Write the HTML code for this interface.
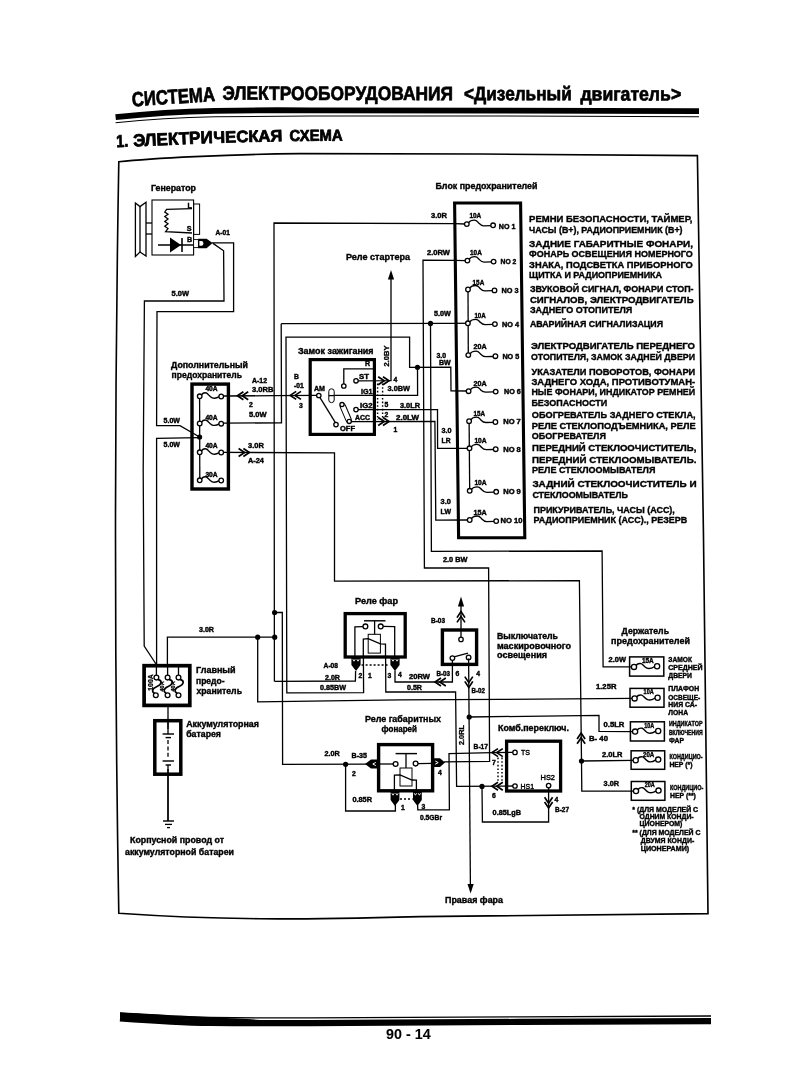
<!DOCTYPE html>
<html><head><meta charset="utf-8"><title>90-14</title>
<style>
html,body{margin:0;padding:0;background:#fff;}
body{width:800px;height:1066px;overflow:hidden;}
svg{display:block;font-family:"Liberation Sans",sans-serif;fill:#000;filter:grayscale(1) blur(0.35px);}
</style></head><body>
<svg width="800" height="1066" viewBox="0 0 800 1066">
<rect x="0" y="0" width="800" height="1066" fill="#fff"/>
<g id="hdr">
<path d="M115.6,117.2 C150,113.4 185,111.4 215,110.8 C260,110 290,110.2 310,110.4 L500,110.6 L699,111.2" fill="none" stroke="#000" stroke-width="5.8"/>
<path d="M115.6,122.8 C150,119.2 185,117.4 215,116.8 C260,116.2 290,116 310,116 L500,116 L699,116.7" fill="none" stroke="#000" stroke-width="1.1"/>
<text x="132.2" y="106.4" font-size="20.4" font-weight="bold" textLength="83.4" lengthAdjust="spacingAndGlyphs" transform="rotate(-3.7 132.2 106.4)" stroke="#000" stroke-width="0.7" stroke-linejoin="round">СИСТЕМА</text>
<text x="222.6" y="99.8" font-size="19.4" font-weight="bold" textLength="230.4" lengthAdjust="spacingAndGlyphs" transform="rotate(0.1 222.6 99.8)" stroke="#000" stroke-width="0.7" stroke-linejoin="round">ЭЛЕКТРООБОРУДОВАНИЯ</text>
<text x="464" y="100.2" font-size="19.4" font-weight="bold" textLength="107.8" lengthAdjust="spacingAndGlyphs" transform="rotate(0.1 464 100.2)" stroke="#000" stroke-width="0.7" stroke-linejoin="round">&lt;Дизельный</text>
<text x="580.4" y="100.4" font-size="19.4" font-weight="bold" textLength="100.8" lengthAdjust="spacingAndGlyphs" transform="rotate(0.1 580.4 100.4)" stroke="#000" stroke-width="0.7" stroke-linejoin="round">двигатель&gt;</text>
<text x="116.4" y="147.2" font-size="17.4" font-weight="bold" textLength="12" lengthAdjust="spacingAndGlyphs" transform="rotate(-2.5 116.4 147.2)" stroke="#000" stroke-width="0.8" stroke-linejoin="round">1.</text>
<text x="133.4" y="146.6" font-size="17.4" font-weight="bold" textLength="79.6" lengthAdjust="spacingAndGlyphs" transform="rotate(-2.6 133.4 146.6)" stroke="#000" stroke-width="0.8" stroke-linejoin="round">ЭЛЕКТРИ</text>
<text x="213.6" y="143" font-size="16.4" font-weight="bold" textLength="69" lengthAdjust="spacingAndGlyphs" transform="rotate(-1.6 213.6 143)" stroke="#000" stroke-width="0.8" stroke-linejoin="round">ЧЕСКАЯ</text>
<text x="289.6" y="141" font-size="15.8" font-weight="bold" textLength="53" lengthAdjust="spacingAndGlyphs" transform="rotate(-0.5 289.6 141)" stroke="#000" stroke-width="0.8" stroke-linejoin="round">СХЕМА</text>
<path d="M120,1018.4 C150,1020.6 180,1022.6 210,1023 C250,1023.4 280,1023.2 310,1023.1 L520,1021.9 L711,1021.1" fill="none" stroke="#000" stroke-width="6.2"/>
<path d="M120,1012.8 C150,1014.6 180,1016.8 210,1017.5 C250,1018 280,1018 310,1017.9 L520,1016.8 L711,1016" fill="none" stroke="#000" stroke-width="1.3"/>
<path d="M120,1012.4 C150,1014.2 180,1016.4 215,1017.4 L260,1019.6 L215,1021 L120,1017 Z" fill="#000"/>
<text x="386" y="1039" font-size="14" font-weight="bold" textLength="44.6" lengthAdjust="spacingAndGlyphs" transform="rotate(0 386 1039)" stroke="#000" stroke-width="0.05" stroke-linejoin="round">90 - 14</text>
</g>
<g id="dia" stroke-linejoin="miter" stroke-linecap="butt">
<path d="M118.8,161.8 C150,158.4 230,154.2 300,153.6 L480,154 L697.4,155.6 L703.4,530 L708,913.6 L420,916.6 C340,918.6 300,919.2 260,918.8 C200,918 150,915.4 118.8,913.2 Q112.2,537 118.8,161.8 Z" fill="none" stroke="#000" stroke-width="1.62" />
<text x="151" y="191" font-size="9.5" font-weight="bold" textLength="45" lengthAdjust="spacingAndGlyphs" stroke="#000" stroke-width="0.4" >Генератор</text>
<path d="M135.4,203 L140,206.6 L146,202.2 L146,256 L140,252 L135.4,256.4 Z" fill="none" stroke="#000" stroke-width="1.3" />
<polyline points="140,206.6 140,252" fill="none" stroke="#000" stroke-width="1.3" />
<polyline points="146,223 152,223" fill="none" stroke="#000" stroke-width="1.3" />
<polyline points="146,234 152,234" fill="none" stroke="#000" stroke-width="1.3" />
<rect x="152" y="200" width="41.6" height="55" fill="none" stroke="#000" stroke-width="1.1"/>
<rect x="193.6" y="204" width="6" height="30.4" fill="none" stroke="#000" stroke-width="1"/>
<text x="187.4" y="208" font-size="7.2" font-weight="bold" stroke="#000" stroke-width="0.4" >L</text>
<text x="186.8" y="231" font-size="7.2" font-weight="bold" stroke="#000" stroke-width="0.4" >S</text>
<text x="187" y="242" font-size="7.2" font-weight="bold" stroke="#000" stroke-width="0.4" >B</text>
<path d="M192,208.6 L166.6,209.4 L164.8,212 L168,214.2 L164.8,216.6 L168,219 L164.8,221.4 L168,223.8 L164.8,226.2 L168,228.6 L165.6,231.6 L192,233" fill="none" stroke="#000" stroke-width="1.3" />
<polyline points="158,245 193.6,245" fill="none" stroke="#000" stroke-width="1.3" />
<polygon points="170,237.4 170,252.4 181,245" fill="#000"/>
<polyline points="182,238 182,252" fill="none" stroke="#000" stroke-width="1.56" />
<rect x="193.6" y="239.6" width="4.8" height="8" fill="#fff" stroke="#000" stroke-width="0.9"/>
<polygon points="198.2,238.8 206.6,238.8 212.6,243 206.6,248.2 198.2,248.2" fill="#000"/>
<path d="M199.4,241 h2 a2,2.4 0 0 1 0,4.8 h-2 z" fill="#fff"/>
<text x="215.6" y="235.2" font-size="6.8" font-weight="bold" textLength="14.2" lengthAdjust="spacingAndGlyphs" stroke="#000" stroke-width="0.4" >A-01</text>
<polyline points="212,242.8 233.6,242.8 233.6,311.6 157,311.6 156.6,425.6 180,425.6 199.6,437" fill="none" stroke="#000" stroke-width="1.3" />
<polyline points="213,243.4 223.6,250.8 224,301 144.4,301 143.2,470 144.2,646 156,664" fill="none" stroke="#000" stroke-width="1.3" />
<text x="171.6" y="296.4" font-size="6.8" font-weight="bold" textLength="17.4" lengthAdjust="spacingAndGlyphs" stroke="#000" stroke-width="0.4" >5.0W</text>
<text x="171" y="368" font-size="9.3" font-weight="bold" textLength="77" lengthAdjust="spacingAndGlyphs" stroke="#000" stroke-width="0.4" >Дополнительный</text>
<text x="171.6" y="377.7" font-size="9.3" font-weight="bold" textLength="70.4" lengthAdjust="spacingAndGlyphs" stroke="#000" stroke-width="0.4" >предохранитель</text>
<rect x="192" y="384.1" width="36.4" height="104.9" fill="none" stroke="#000" stroke-width="3.4"/>
<polyline points="199.6,396 199.8,480" fill="none" stroke="#000" stroke-width="1.3" />
<path d="M201.5,394.9 C202.92,392.9 204.64,392.5 206.36,393 S209.16,396.5 211.74,397.6 S216.9,398.1 219.1,396.7" fill="none" stroke="#000" stroke-width="1.43" />
<circle cx="199.7" cy="396.3" r="2.3" fill="#fff" stroke="#000" stroke-width="1.3"/>
<circle cx="221.2" cy="396.5" r="2.3" fill="#fff" stroke="#000" stroke-width="1.3"/>
<text x="205.4" y="391.2" font-size="6.8" font-weight="bold" textLength="12.2" lengthAdjust="spacingAndGlyphs" stroke="#000" stroke-width="0.4" >40A</text>
<path d="M201.5,422.1 C202.92,420.1 204.64,419.7 206.36,420.2 S209.16,423.7 211.74,424.8 S216.9,425.3 219.1,423.9" fill="none" stroke="#000" stroke-width="1.43" />
<circle cx="199.7" cy="423.5" r="2.3" fill="#fff" stroke="#000" stroke-width="1.3"/>
<circle cx="221.2" cy="423.7" r="2.3" fill="#fff" stroke="#000" stroke-width="1.3"/>
<text x="205.4" y="419.6" font-size="6.8" font-weight="bold" textLength="12.2" lengthAdjust="spacingAndGlyphs" stroke="#000" stroke-width="0.4" >40A</text>
<path d="M201.5,450.9 C202.92,448.9 204.64,448.5 206.36,449 S209.16,452.5 211.74,453.6 S216.9,454.1 219.1,452.7" fill="none" stroke="#000" stroke-width="1.43" />
<circle cx="199.7" cy="452.3" r="2.3" fill="#fff" stroke="#000" stroke-width="1.3"/>
<circle cx="221.2" cy="452.5" r="2.3" fill="#fff" stroke="#000" stroke-width="1.3"/>
<text x="205.4" y="448.4" font-size="6.8" font-weight="bold" textLength="12.2" lengthAdjust="spacingAndGlyphs" stroke="#000" stroke-width="0.4" >40A</text>
<path d="M201.5,478.9 C202.92,476.9 204.64,476.5 206.36,477 S209.16,480.5 211.74,481.6 S216.9,482.1 219.1,480.7" fill="none" stroke="#000" stroke-width="1.43" />
<circle cx="199.7" cy="480.3" r="2.3" fill="#fff" stroke="#000" stroke-width="1.3"/>
<circle cx="221.2" cy="480.5" r="2.3" fill="#fff" stroke="#000" stroke-width="1.3"/>
<text x="205.4" y="477" font-size="6.8" font-weight="bold" textLength="12.2" lengthAdjust="spacingAndGlyphs" stroke="#000" stroke-width="0.4" >30A</text>
<circle cx="199.6" cy="437" r="2.6" fill="#000"/>
<polyline points="199.6,437.6 156.6,438.4 156.6,665" fill="none" stroke="#000" stroke-width="1.3" />
<text x="163.6" y="422.6" font-size="6.8" font-weight="bold" textLength="16.4" lengthAdjust="spacingAndGlyphs" stroke="#000" stroke-width="0.4" >5.0W</text>
<text x="163.6" y="447" font-size="6.8" font-weight="bold" textLength="16.4" lengthAdjust="spacingAndGlyphs" stroke="#000" stroke-width="0.4" >5.0W</text>
<polyline points="224,396 274.2,395.6" fill="none" stroke="#000" stroke-width="1.3" />
<polyline points="274.2,395.6 316.6,395.4" fill="none" stroke="#000" stroke-width="1.3" />
<polyline points="243.4,391.8 237.4,395.8 243.4,399.8" fill="none" stroke="#000" stroke-width="1.69" />
<polyline points="248.2,391.8 242.2,395.8 248.2,399.8" fill="none" stroke="#000" stroke-width="1.69" />
<polyline points="296.2,391.4 290.2,395.4 296.2,399.4" fill="none" stroke="#000" stroke-width="1.69" />
<polyline points="301,391.4 295,395.4 301,399.4" fill="none" stroke="#000" stroke-width="1.69" />
<text x="252" y="382.6" font-size="6.8" font-weight="bold" textLength="15" lengthAdjust="spacingAndGlyphs" stroke="#000" stroke-width="0.4" >A-12</text>
<text x="252" y="391.8" font-size="6.8" font-weight="bold" textLength="21.4" lengthAdjust="spacingAndGlyphs" stroke="#000" stroke-width="0.4" >3.0RB</text>
<text x="249" y="406.6" font-size="6.8" font-weight="bold" stroke="#000" stroke-width="0.4" >2</text>
<text x="249" y="417" font-size="6.8" font-weight="bold" textLength="17.5" lengthAdjust="spacingAndGlyphs" stroke="#000" stroke-width="0.4" >5.0W</text>
<polyline points="224,423.2 281.5,422.8 281.2,323.7" fill="none" stroke="#000" stroke-width="1.3" />
<polyline points="224,452.4 334.5,452.8 334.5,581.2 579.4,580.6 581.5,761 581.8,791.2 633.6,791.1" fill="none" stroke="#000" stroke-width="1.3" />
<polyline points="243.4,448.5 249.4,452.5 243.4,456.5" fill="none" stroke="#000" stroke-width="1.69" />
<polyline points="238.6,448.5 244.6,452.5 238.6,456.5" fill="none" stroke="#000" stroke-width="1.69" />
<text x="248" y="448.2" font-size="6.8" font-weight="bold" textLength="15.8" lengthAdjust="spacingAndGlyphs" stroke="#000" stroke-width="0.4" >3.0R</text>
<text x="248" y="463.4" font-size="6.8" font-weight="bold" textLength="15.8" lengthAdjust="spacingAndGlyphs" stroke="#000" stroke-width="0.4" >A-24</text>
<polyline points="274.4,681.4 274,223 455,223.6" fill="none" stroke="#000" stroke-width="1.3" />
<polyline points="274.6,681.4 355.4,681 355.6,671" fill="none" stroke="#000" stroke-width="1.3" />
<text x="431" y="218.4" font-size="6.8" font-weight="bold" textLength="16" lengthAdjust="spacingAndGlyphs" stroke="#000" stroke-width="0.4" >3.0R</text>
<polyline points="455,260.4 423,260.2 424.4,568 488.6,568 489.6,761.4 444,761.8" fill="none" stroke="#000" stroke-width="1.3" />
<text x="427" y="254.8" font-size="6.8" font-weight="bold" textLength="23" lengthAdjust="spacingAndGlyphs" stroke="#000" stroke-width="0.4" >2.0RW</text>
<polyline points="281.2,323.7 456,323.3" fill="none" stroke="#000" stroke-width="1.3" />
<circle cx="430.5" cy="323.4" r="2.6" fill="#000"/>
<text x="434" y="316" font-size="6.8" font-weight="bold" textLength="16.8" lengthAdjust="spacingAndGlyphs" stroke="#000" stroke-width="0.4" >5.0W</text>
<polyline points="430.5,323.4 431.4,551.4 602.1,551 603.1,666.8 631.6,666.9" fill="none" stroke="#000" stroke-width="1.3" />
<text x="346" y="260.3" font-size="9.8" font-weight="bold" textLength="64" lengthAdjust="spacingAndGlyphs" stroke="#000" stroke-width="0.4" >Реле стартера</text>
<polygon points="391,270 387.9,279.5 394.1,279.5" fill="#000"/>
<polyline points="391,279 391,380.6 358,380.8" fill="none" stroke="#000" stroke-width="1.3" />
<polyline points="363.4,657 363.6,692.6 286.8,692.8 286,337.2 409.6,337.2 409.6,367.4 450.8,367.2 451,390.8 467,391" fill="none" stroke="#000" stroke-width="1.3" />
<circle cx="417.5" cy="367.3" r="2.6" fill="#000"/>
<polyline points="417.5,367.3 417.6,395.4 376,395.4" fill="none" stroke="#000" stroke-width="1.3" />
<text x="436.4" y="358.4" font-size="6.8" font-weight="bold" textLength="9.6" lengthAdjust="spacingAndGlyphs" stroke="#000" stroke-width="0.4" >3.0</text>
<text x="439" y="365" font-size="6.8" font-weight="bold" textLength="11.8" lengthAdjust="spacingAndGlyphs" stroke="#000" stroke-width="0.4" >BW</text>
<text x="298" y="354.2" font-size="9.6" font-weight="bold" textLength="75.6" lengthAdjust="spacingAndGlyphs" stroke="#000" stroke-width="0.4" >Замок зажигания</text>
<rect x="310.2" y="359.6" width="64.2" height="74.8" fill="none" stroke="#000" stroke-width="3.2"/>
<text x="365" y="366.4" font-size="7" font-weight="bold" stroke="#000" stroke-width="0.4" >R</text>
<polyline points="373,368.8 343.8,368.8 343.8,384" fill="none" stroke="#000" stroke-width="1.3" />
<circle cx="343.8" cy="386" r="2.2" fill="#fff" stroke="#000" stroke-width="1.3"/>
<text x="359" y="379.2" font-size="7" font-weight="bold" textLength="10" lengthAdjust="spacingAndGlyphs" stroke="#000" stroke-width="0.4" >ST</text>
<circle cx="356" cy="380.8" r="2.2" fill="#fff" stroke="#000" stroke-width="1.3"/>
<polyline points="383,376.7 389,380.7 383,384.7" fill="none" stroke="#000" stroke-width="1.69" />
<polyline points="378.2,376.7 384.2,380.7 378.2,384.7" fill="none" stroke="#000" stroke-width="1.69" />
<text x="361" y="394" font-size="7" font-weight="bold" textLength="11.5" lengthAdjust="spacingAndGlyphs" stroke="#000" stroke-width="0.4" >IG1</text>
<polyline points="334.4,395.4 376,395.4" fill="none" stroke="#000" stroke-width="1.3" />
<text x="314" y="391" font-size="7" font-weight="bold" textLength="11" lengthAdjust="spacingAndGlyphs" stroke="#000" stroke-width="0.4" >AM</text>
<polyline points="319.4,396.6 335.4,422.6" fill="none" stroke="#000" stroke-width="1.3" />
<circle cx="318.8" cy="395.5" r="2.2" fill="#fff" stroke="#000" stroke-width="1.3"/>
<rect x="328.8" y="388.8" width="5.4" height="13.8" rx="2.6" fill="#fff" stroke="#000" stroke-width="1"/>
<polyline points="328.8,395.6 334.2,395.6" fill="none" stroke="#000" stroke-width="1.3" />
<g transform="rotate(-23 345.6 413)"><rect x="343" y="403.4" width="5.4" height="19.4" rx="2.6" fill="#fff" stroke="#000" stroke-width="1"/></g>
<circle cx="342" cy="404.6" r="2.1" fill="#fff" stroke="#000" stroke-width="1.3"/>
<circle cx="349.2" cy="421.4" r="2.1" fill="#fff" stroke="#000" stroke-width="1.3"/>
<text x="360" y="407.6" font-size="7" font-weight="bold" textLength="12.5" lengthAdjust="spacingAndGlyphs" stroke="#000" stroke-width="0.4" >IG2</text>
<circle cx="356" cy="409.6" r="2.2" fill="#fff" stroke="#000" stroke-width="1.3"/>
<polyline points="358,409.6 437.5,409.6 437.6,448.3 467.6,448.3" fill="none" stroke="#000" stroke-width="1.3" />
<text x="355" y="420" font-size="7" font-weight="bold" textLength="15" lengthAdjust="spacingAndGlyphs" stroke="#000" stroke-width="0.4" >ACC</text>
<polyline points="351,421.6 434.9,421.3 435.8,520.2 467.8,520" fill="none" stroke="#000" stroke-width="1.3" />
<polyline points="383,417.5 389,421.5 383,425.5" fill="none" stroke="#000" stroke-width="1.69" />
<polyline points="378.2,417.5 384.2,421.5 378.2,425.5" fill="none" stroke="#000" stroke-width="1.69" />
<text x="340" y="431" font-size="7" font-weight="bold" textLength="15" lengthAdjust="spacingAndGlyphs" stroke="#000" stroke-width="0.4" >OFF</text>
<circle cx="336" cy="424.6" r="2.2" fill="#fff" stroke="#000" stroke-width="1.3"/>
<polyline points="377.6,383.6 377.6,420" fill="none" stroke="#000" stroke-width="1.43" stroke-dasharray="1.6 2"/>
<polyline points="382.6,383.6 382.6,420" fill="none" stroke="#000" stroke-width="1.43" stroke-dasharray="1.6 2"/>
<text x="393.4" y="382" font-size="6.8" font-weight="bold" stroke="#000" stroke-width="0.4" >4</text>
<text x="387.5" y="391" font-size="6.8" font-weight="bold" textLength="22.5" lengthAdjust="spacingAndGlyphs" stroke="#000" stroke-width="0.4" >3.0BW</text>
<text x="384.6" y="406.9" font-size="6.8" font-weight="bold" stroke="#000" stroke-width="0.4" >5</text>
<text x="384.6" y="417" font-size="6.8" font-weight="bold" stroke="#000" stroke-width="0.4" >2</text>
<text x="393.6" y="432.4" font-size="6.8" font-weight="bold" stroke="#000" stroke-width="0.4" >1</text>
<text x="400" y="407.6" font-size="6.8" font-weight="bold" textLength="20" lengthAdjust="spacingAndGlyphs" stroke="#000" stroke-width="0.4" >3.0LR</text>
<text x="396" y="420" font-size="6.8" font-weight="bold" textLength="23" lengthAdjust="spacingAndGlyphs" stroke="#000" stroke-width="0.4" >2.0LW</text>
<text x="389" y="366.4" font-size="6.8" font-weight="bold" textLength="20.8" lengthAdjust="spacingAndGlyphs" transform="rotate(-90 389 366.4)" stroke="#000" stroke-width="0.3">2.0BY</text>
<text x="294" y="379" font-size="6.8" font-weight="bold" stroke="#000" stroke-width="0.4" >B</text>
<text x="294" y="388" font-size="6.8" font-weight="bold" textLength="9.7" lengthAdjust="spacingAndGlyphs" stroke="#000" stroke-width="0.4" >-01</text>
<text x="299" y="408.2" font-size="6.8" font-weight="bold" stroke="#000" stroke-width="0.4" >3</text>
<text x="441.6" y="433" font-size="6.8" font-weight="bold" textLength="10" lengthAdjust="spacingAndGlyphs" stroke="#000" stroke-width="0.4" >3.0</text>
<text x="441.6" y="442.6" font-size="6.8" font-weight="bold" textLength="9" lengthAdjust="spacingAndGlyphs" stroke="#000" stroke-width="0.4" >LR</text>
<text x="440.6" y="504" font-size="6.8" font-weight="bold" textLength="10.2" lengthAdjust="spacingAndGlyphs" stroke="#000" stroke-width="0.4" >3.0</text>
<text x="440.6" y="513.8" font-size="6.8" font-weight="bold" textLength="10.4" lengthAdjust="spacingAndGlyphs" stroke="#000" stroke-width="0.4" >LW</text>
<text x="442.9" y="562" font-size="6.8" font-weight="bold" textLength="24.5" lengthAdjust="spacingAndGlyphs" stroke="#000" stroke-width="0.4" >2.0 BW</text>
<text x="435.5" y="188.5" font-size="9.8" font-weight="bold" textLength="102" lengthAdjust="spacingAndGlyphs" stroke="#000" stroke-width="0.4" >Блок предохранителей</text>
<polygon points="454.6,203 520.6,203 524.8,537.7 458.6,537.7" fill="none" stroke="#000" stroke-width="3.1"/>
<polyline points="468,289.5 468.3,355.1" fill="none" stroke="#000" stroke-width="1.3" />
<polyline points="469.1,421.2 469.7,490.8" fill="none" stroke="#000" stroke-width="1.3" />
<path d="M468.4,222.8 C470,220.5 471.6,220.1 474.3,220.1 S477.3,221.5 478.8,223.1 S481.3,225.9 483.8,225.8 L491,225.6" fill="none" stroke="#000" stroke-width="1.3" />
<circle cx="466.8" cy="224.1" r="2.3" fill="#fff" stroke="#000" stroke-width="1.3"/>
<circle cx="493.1" cy="225.3" r="2.3" fill="#fff" stroke="#000" stroke-width="1.3"/>
<text x="469.4" y="218.3" font-size="6.8" font-weight="bold" textLength="11.8" lengthAdjust="spacingAndGlyphs" stroke="#000" stroke-width="0.4" >10A</text>
<text x="498.8" y="228.6" font-size="6.8" font-weight="bold" textLength="16.6" lengthAdjust="spacingAndGlyphs" stroke="#000" stroke-width="0.4" >NO 1</text>
<path d="M469,259.3 C470.59,257 472.18,256.6 474.87,256.6 S477.86,258 479.35,259.6 S481.84,262.2 484.34,262.1 L491.5,261.9" fill="none" stroke="#000" stroke-width="1.3" />
<circle cx="467.4" cy="260.6" r="2.3" fill="#fff" stroke="#000" stroke-width="1.3"/>
<circle cx="493.6" cy="261.6" r="2.3" fill="#fff" stroke="#000" stroke-width="1.3"/>
<text x="470" y="254.7" font-size="6.8" font-weight="bold" textLength="11.8" lengthAdjust="spacingAndGlyphs" stroke="#000" stroke-width="0.4" >10A</text>
<text x="500.6" y="264.2" font-size="6.8" font-weight="bold" textLength="15.8" lengthAdjust="spacingAndGlyphs" stroke="#000" stroke-width="0.4" >NO 2</text>
<path d="M469.6,288.2 C471.22,285.9 472.84,285.5 475.56,285.5 S478.58,286.9 480.09,288.5 S482.61,291 485.13,290.9 L492.4,290.7" fill="none" stroke="#000" stroke-width="1.3" />
<circle cx="468" cy="289.5" r="2.3" fill="#fff" stroke="#000" stroke-width="1.3"/>
<circle cx="494.5" cy="290.4" r="2.3" fill="#fff" stroke="#000" stroke-width="1.3"/>
<text x="472.6" y="284.5" font-size="6.8" font-weight="bold" textLength="11.6" lengthAdjust="spacingAndGlyphs" stroke="#000" stroke-width="0.4" >15A</text>
<text x="501.5" y="293.4" font-size="6.8" font-weight="bold" textLength="17.1" lengthAdjust="spacingAndGlyphs" stroke="#000" stroke-width="0.4" >NO 3</text>
<path d="M469.5,322 C471.19,319.7 472.83,319.3 475.6,319.3 S478.68,320.7 480.22,322.3 S482.79,324.7 485.35,324.6 L492.8,324.4" fill="none" stroke="#000" stroke-width="1.3" />
<circle cx="467.9" cy="323.3" r="2.3" fill="#fff" stroke="#000" stroke-width="1.3"/>
<circle cx="494.9" cy="324.1" r="2.3" fill="#fff" stroke="#000" stroke-width="1.3"/>
<text x="474.4" y="318.2" font-size="6.8" font-weight="bold" textLength="11.4" lengthAdjust="spacingAndGlyphs" stroke="#000" stroke-width="0.4" >10A</text>
<text x="502" y="326.6" font-size="6.8" font-weight="bold" textLength="17" lengthAdjust="spacingAndGlyphs" stroke="#000" stroke-width="0.4" >NO 4</text>
<path d="M469.9,353.8 C471.6,351.5 473.25,351.1 476.03,351.1 S479.12,352.5 480.67,354.1 S483.24,356.8 485.82,356.7 L493.3,356.5" fill="none" stroke="#000" stroke-width="1.3" />
<circle cx="468.3" cy="355.1" r="2.3" fill="#fff" stroke="#000" stroke-width="1.3"/>
<circle cx="495.4" cy="356.2" r="2.3" fill="#fff" stroke="#000" stroke-width="1.3"/>
<text x="473.5" y="348.9" font-size="6.8" font-weight="bold" textLength="13.1" lengthAdjust="spacingAndGlyphs" stroke="#000" stroke-width="0.4" >20A</text>
<text x="502.4" y="359" font-size="6.8" font-weight="bold" textLength="16.8" lengthAdjust="spacingAndGlyphs" stroke="#000" stroke-width="0.4" >NO 5</text>
<path d="M470.2,389.9 C471.9,387.6 473.55,387.2 476.33,387.2 S479.42,388.6 480.97,390.2 S483.54,392.2 486.12,392.1 L493.6,391.9" fill="none" stroke="#000" stroke-width="1.3" />
<circle cx="468.6" cy="391.2" r="2.3" fill="#fff" stroke="#000" stroke-width="1.3"/>
<circle cx="495.7" cy="391.6" r="2.3" fill="#fff" stroke="#000" stroke-width="1.3"/>
<text x="473.5" y="385.6" font-size="6.8" font-weight="bold" textLength="13.1" lengthAdjust="spacingAndGlyphs" stroke="#000" stroke-width="0.4" >20A</text>
<text x="504" y="394.2" font-size="6.8" font-weight="bold" textLength="16.8" lengthAdjust="spacingAndGlyphs" stroke="#000" stroke-width="0.4" >NO 6</text>
<path d="M470.7,419.9 C472.3,417.6 473.9,417.2 476.6,417.2 S479.6,418.6 481.1,420.2 S483.6,422.6 486.1,422.5 L493.3,422.3" fill="none" stroke="#000" stroke-width="1.3" />
<circle cx="469.1" cy="421.2" r="2.3" fill="#fff" stroke="#000" stroke-width="1.3"/>
<circle cx="495.4" cy="422" r="2.3" fill="#fff" stroke="#000" stroke-width="1.3"/>
<text x="473.5" y="415.9" font-size="6.8" font-weight="bold" textLength="11.5" lengthAdjust="spacingAndGlyphs" stroke="#000" stroke-width="0.4" >15A</text>
<text x="503.2" y="424.2" font-size="6.8" font-weight="bold" textLength="17.6" lengthAdjust="spacingAndGlyphs" stroke="#000" stroke-width="0.4" >NO 7</text>
<path d="M471.1,447 C472.69,444.7 474.28,444.3 476.97,444.3 S479.96,445.7 481.45,447.3 S483.94,449.8 486.44,449.7 L493.6,449.5" fill="none" stroke="#000" stroke-width="1.3" />
<circle cx="469.5" cy="448.3" r="2.3" fill="#fff" stroke="#000" stroke-width="1.3"/>
<circle cx="495.7" cy="449.2" r="2.3" fill="#fff" stroke="#000" stroke-width="1.3"/>
<text x="474.4" y="442.8" font-size="6.8" font-weight="bold" textLength="12.2" lengthAdjust="spacingAndGlyphs" stroke="#000" stroke-width="0.4" >10A</text>
<text x="503.2" y="452" font-size="6.8" font-weight="bold" textLength="17.6" lengthAdjust="spacingAndGlyphs" stroke="#000" stroke-width="0.4" >NO 8</text>
<path d="M471.3,489.5 C472.92,487.2 474.54,486.8 477.26,486.8 S480.28,488.2 481.79,489.8 S484.31,492.4 486.83,492.3 L494.1,492.1" fill="none" stroke="#000" stroke-width="1.3" />
<circle cx="469.7" cy="490.8" r="2.3" fill="#fff" stroke="#000" stroke-width="1.3"/>
<circle cx="496.2" cy="491.8" r="2.3" fill="#fff" stroke="#000" stroke-width="1.3"/>
<text x="474.4" y="484.7" font-size="6.8" font-weight="bold" textLength="12.2" lengthAdjust="spacingAndGlyphs" stroke="#000" stroke-width="0.4" >10A</text>
<text x="503.2" y="494.4" font-size="6.8" font-weight="bold" textLength="17.6" lengthAdjust="spacingAndGlyphs" stroke="#000" stroke-width="0.4" >NO 9</text>
<path d="M471.3,518.7 C472.92,516.4 474.54,516 477.26,516 S480.28,517.4 481.79,519 S484.31,521.7 486.83,521.6 L494.1,521.4" fill="none" stroke="#000" stroke-width="1.3" />
<circle cx="469.7" cy="520" r="2.3" fill="#fff" stroke="#000" stroke-width="1.3"/>
<circle cx="496.2" cy="521.1" r="2.3" fill="#fff" stroke="#000" stroke-width="1.3"/>
<text x="473.5" y="515.3" font-size="6.8" font-weight="bold" textLength="13.1" lengthAdjust="spacingAndGlyphs" stroke="#000" stroke-width="0.4" >15A</text>
<text x="500.6" y="522.6" font-size="6.8" font-weight="bold" textLength="22" lengthAdjust="spacingAndGlyphs" stroke="#000" stroke-width="0.4" >NO 10</text>
<polyline points="455,223.6 464.8,224" fill="none" stroke="#000" stroke-width="1.3" />
<polyline points="455,260.4 465.4,260.6" fill="none" stroke="#000" stroke-width="1.3" />
<polyline points="456,323.3 466,323.3" fill="none" stroke="#000" stroke-width="1.3" />
<text x="529.1" y="222.4" font-size="9.9" font-weight="bold" textLength="163.2" lengthAdjust="spacingAndGlyphs" stroke="#000" stroke-width="0.4" >РЕМНИ БЕЗОПАСНОСТИ, ТАЙМЕР,</text>
<text x="529.1" y="232.9" font-size="9.9" font-weight="bold" textLength="153.4" lengthAdjust="spacingAndGlyphs" stroke="#000" stroke-width="0.4" >ЧАСЫ (В+), РАДИОПРИЕМНИК (В+)</text>
<text x="529.1" y="246.8" font-size="9.9" font-weight="bold" textLength="163.9" lengthAdjust="spacingAndGlyphs" stroke="#000" stroke-width="0.4" >ЗАДНИЕ ГАБАРИТНЫЕ ФОНАРИ,</text>
<text x="529.1" y="257.3" font-size="9.9" font-weight="bold" textLength="163.7" lengthAdjust="spacingAndGlyphs" stroke="#000" stroke-width="0.4" >ФОНАРЬ ОСВЕЩЕНИЯ НОМЕРНОГО</text>
<text x="529.1" y="267.8" font-size="9.9" font-weight="bold" textLength="163.7" lengthAdjust="spacingAndGlyphs" stroke="#000" stroke-width="0.4" >ЗНАКА, ПОДСВЕТКА ПРИБОРНОГО</text>
<text x="529.1" y="278.3" font-size="9.9" font-weight="bold" textLength="132.9" lengthAdjust="spacingAndGlyphs" stroke="#000" stroke-width="0.4" >ЩИТКА И РАДИОПРИЕМНИКА</text>
<text x="529.9" y="292.2" font-size="9.9" font-weight="bold" textLength="163.7" lengthAdjust="spacingAndGlyphs" stroke="#000" stroke-width="0.4" >ЗВУКОВОЙ СИГНАЛ, ФОНАРИ СТОП-</text>
<text x="529.9" y="302.7" font-size="9.9" font-weight="bold" textLength="163.7" lengthAdjust="spacingAndGlyphs" stroke="#000" stroke-width="0.4" >СИГНАЛОВ, ЭЛЕКТРОДВИГАТЕЛЬ</text>
<text x="529.9" y="313.2" font-size="9.9" font-weight="bold" textLength="102.3" lengthAdjust="spacingAndGlyphs" stroke="#000" stroke-width="0.4" >ЗАДНЕГО ОТОПИТЕЛЯ</text>
<text x="529.9" y="327.4" font-size="9.9" font-weight="bold" textLength="133.1" lengthAdjust="spacingAndGlyphs" stroke="#000" stroke-width="0.4" >АВАРИЙНАЯ СИГНАЛИЗАЦИЯ</text>
<text x="531" y="349.2" font-size="9.9" font-weight="bold" textLength="164" lengthAdjust="spacingAndGlyphs" stroke="#000" stroke-width="0.4" >ЭЛЕКТРОДВИГАТЕЛЬ ПЕРЕДНЕГО</text>
<text x="531" y="359.9" font-size="9.9" font-weight="bold" textLength="164" lengthAdjust="spacingAndGlyphs" stroke="#000" stroke-width="0.4" >ОТОПИТЕЛЯ, ЗАМОК ЗАДНЕЙ ДВЕРИ</text>
<text x="531.4" y="374.55" font-size="9.9" font-weight="bold" textLength="163.8" lengthAdjust="spacingAndGlyphs" stroke="#000" stroke-width="0.4" >УКАЗАТЕЛИ ПОВОРОТОВ, ФОНАРИ</text>
<text x="531.4" y="384.7" font-size="9.9" font-weight="bold" textLength="163.8" lengthAdjust="spacingAndGlyphs" stroke="#000" stroke-width="0.4" >ЗАДНЕГО ХОДА, ПРОТИВОТУМАН-</text>
<text x="531.4" y="395.2" font-size="9.9" font-weight="bold" textLength="163.8" lengthAdjust="spacingAndGlyphs" stroke="#000" stroke-width="0.4" >НЫЕ ФОНАРИ, ИНДИКАТОР РЕМНЕЙ</text>
<text x="531.4" y="405.7" font-size="9.9" font-weight="bold" textLength="75.9" lengthAdjust="spacingAndGlyphs" stroke="#000" stroke-width="0.4" >БЕЗОПАСНОСТИ</text>
<text x="531.8" y="417.7" font-size="9.9" font-weight="bold" textLength="163.8" lengthAdjust="spacingAndGlyphs" stroke="#000" stroke-width="0.4" >ОБОГРЕВАТЕЛЬ ЗАДНЕГО СТЕКЛА,</text>
<text x="531.8" y="428.55" font-size="9.9" font-weight="bold" textLength="163.8" lengthAdjust="spacingAndGlyphs" stroke="#000" stroke-width="0.4" >РЕЛЕ СТЕКЛОПОДЪЕМНИКА, РЕЛЕ</text>
<text x="531.8" y="439.05" font-size="9.9" font-weight="bold" textLength="74.1" lengthAdjust="spacingAndGlyphs" stroke="#000" stroke-width="0.4" >ОБОГРЕВАТЕЛЯ</text>
<text x="532.1" y="451.4" font-size="9.9" font-weight="bold" textLength="164.3" lengthAdjust="spacingAndGlyphs" stroke="#000" stroke-width="0.4" >ПЕРЕДНИЙ СТЕКЛООЧИСТИТЕЛЬ,</text>
<text x="532.1" y="462.7" font-size="9.9" font-weight="bold" textLength="164.3" lengthAdjust="spacingAndGlyphs" stroke="#000" stroke-width="0.4" >ПЕРЕДНИЙ СТЕКЛООМЫВАТЕЛЬ.</text>
<text x="532.1" y="473.2" font-size="9.9" font-weight="bold" textLength="123.3" lengthAdjust="spacingAndGlyphs" stroke="#000" stroke-width="0.4" >РЕЛЕ СТЕКЛООМЫВАТЕЛЯ</text>
<text x="532.4" y="487.4" font-size="9.9" font-weight="bold" textLength="164.2" lengthAdjust="spacingAndGlyphs" stroke="#000" stroke-width="0.4" >ЗАДНИЙ СТЕКЛООЧИСТИТЕЛЬ И</text>
<text x="532.4" y="498.1" font-size="9.9" font-weight="bold" textLength="95.5" lengthAdjust="spacingAndGlyphs" stroke="#000" stroke-width="0.4" >СТЕКЛООМЫВАТЕЛЬ</text>
<text x="533.5" y="512.55" font-size="9.9" font-weight="bold" textLength="141.3" lengthAdjust="spacingAndGlyphs" stroke="#000" stroke-width="0.4" >ПРИКУРИВАТЕЛЬ, ЧАСЫ (АСС),</text>
<text x="533.5" y="523.3" font-size="9.9" font-weight="bold" textLength="153.7" lengthAdjust="spacingAndGlyphs" stroke="#000" stroke-width="0.4" >РАДИОПРИЕМНИК (АСС)., РЕЗЕРВ</text>
<polyline points="167.4,666 167.4,637.2 274.8,637.2" fill="none" stroke="#000" stroke-width="1.3" />
<circle cx="257.7" cy="637.2" r="2.6" fill="#000"/>
<circle cx="274.7" cy="637.2" r="2.6" fill="#000"/>
<circle cx="274.6" cy="612.5" r="2.6" fill="#000"/>
<polyline points="274.6,612.5 282.3,612.5 282.6,764.4 367,764.2" fill="none" stroke="#000" stroke-width="1.3" />
<polyline points="257.7,637.2 257.7,701.8 400,699.8 500,699.4 632.2,698.4" fill="none" stroke="#000" stroke-width="1.3" />
<text x="199" y="632" font-size="6.8" font-weight="bold" textLength="15" lengthAdjust="spacingAndGlyphs" stroke="#000" stroke-width="0.4" >3.0R</text>
<rect x="144.1" y="665.7" width="45.7" height="39.7" fill="none" stroke="#000" stroke-width="3.7"/>
<polyline points="156.4,666 156.4,675.4" fill="none" stroke="#000" stroke-width="1.3" />
<polyline points="167.6,666 167.6,675.4" fill="none" stroke="#000" stroke-width="1.3" />
<polyline points="178.5,666 178.5,675.4" fill="none" stroke="#000" stroke-width="1.3" />
<path d="M157.8,679.4 C162.8,680.6 161.8,684.6 157,686.6 S151.2,691.6 154.6,693.4" fill="none" stroke="#000" stroke-width="1.62" />
<path d="M169,679.4 C174,680.6 173,684.6 168.2,686.6 S163,691.6 166.4,693.4" fill="none" stroke="#000" stroke-width="1.62" />
<path d="M179.9,679.4 C184.9,680.6 183.9,684.6 179.1,686.6 S173.9,691.6 177.3,693.4" fill="none" stroke="#000" stroke-width="1.62" />
<circle cx="156.4" cy="677.6" r="2.4" fill="#fff" stroke="#000" stroke-width="1.3"/>
<circle cx="155.8" cy="695.3" r="2.4" fill="#fff" stroke="#000" stroke-width="1.3"/>
<circle cx="167.6" cy="677.6" r="2.4" fill="#fff" stroke="#000" stroke-width="1.3"/>
<circle cx="167.6" cy="695.3" r="2.4" fill="#fff" stroke="#000" stroke-width="1.3"/>
<circle cx="178.5" cy="677.6" r="2.4" fill="#fff" stroke="#000" stroke-width="1.3"/>
<circle cx="178.5" cy="695.3" r="2.4" fill="#fff" stroke="#000" stroke-width="1.3"/>
<text x="152.8" y="690.8" font-size="6.6" font-weight="bold" textLength="16.6" lengthAdjust="spacingAndGlyphs" transform="rotate(-90 152.8 690.8)" stroke="#000" stroke-width="0.3">100A</text>
<text x="164.2" y="691.4" font-size="6" font-weight="bold" textLength="10" lengthAdjust="spacingAndGlyphs" transform="rotate(-90 164.2 691.4)" stroke="#000" stroke-width="0.3">40A</text>
<text x="175.2" y="691.4" font-size="6" font-weight="bold" textLength="10" lengthAdjust="spacingAndGlyphs" transform="rotate(-90 175.2 691.4)" stroke="#000" stroke-width="0.3">40A</text>
<text x="196" y="673.3" font-size="9.4" font-weight="bold" textLength="39.6" lengthAdjust="spacingAndGlyphs" stroke="#000" stroke-width="0.4" >Главный</text>
<text x="196" y="684.3" font-size="9.4" font-weight="bold" textLength="28.6" lengthAdjust="spacingAndGlyphs" stroke="#000" stroke-width="0.4" >предо-</text>
<text x="196.4" y="694" font-size="9.4" font-weight="bold" textLength="45.6" lengthAdjust="spacingAndGlyphs" stroke="#000" stroke-width="0.4" >хранитель</text>
<polyline points="168,706 168,821" fill="none" stroke="#000" stroke-width="1.3" />
<rect x="154.8" y="720.7" width="26" height="53.5" fill="none" stroke="#000" stroke-width="3.5"/>
<rect x="160" y="729" width="16" height="40" fill="#fff"/>
<polyline points="168,720 168,734" fill="none" stroke="#000" stroke-width="1.3" />
<polyline points="162.6,734 174,734" fill="none" stroke="#000" stroke-width="1.43" />
<polyline points="165.6,737.6 171,737.6" fill="none" stroke="#000" stroke-width="1.43" />
<polyline points="168,740 168,758" fill="none" stroke="#000" stroke-width="1.3" stroke-dasharray="4 2.4"/>
<polyline points="162.6,761 174,761" fill="none" stroke="#000" stroke-width="1.43" />
<polyline points="165.6,765 171,765" fill="none" stroke="#000" stroke-width="1.43" />
<polyline points="168,765 168,821" fill="none" stroke="#000" stroke-width="1.3" />
<polyline points="163,821 174,821" fill="none" stroke="#000" stroke-width="1.43" />
<polyline points="165,824.4 172,824.4" fill="none" stroke="#000" stroke-width="1.3" />
<polyline points="167,827.6 170,827.6" fill="none" stroke="#000" stroke-width="1.3" />
<text x="186.2" y="726.8" font-size="9.4" font-weight="bold" textLength="72.8" lengthAdjust="spacingAndGlyphs" stroke="#000" stroke-width="0.4" >Аккумуляторная</text>
<text x="186.2" y="736.6" font-size="9.4" font-weight="bold" textLength="34.8" lengthAdjust="spacingAndGlyphs" stroke="#000" stroke-width="0.4" >батарея</text>
<text x="130" y="843.4" font-size="9.4" font-weight="bold" textLength="94" lengthAdjust="spacingAndGlyphs" stroke="#000" stroke-width="0.4" >Корпусной провод от</text>
<text x="125" y="855" font-size="9.4" font-weight="bold" textLength="109" lengthAdjust="spacingAndGlyphs" stroke="#000" stroke-width="0.4" >аккумуляторной батареи</text>
<text x="355" y="603.5" font-size="9.5" font-weight="bold" textLength="43" lengthAdjust="spacingAndGlyphs" stroke="#000" stroke-width="0.4" >Реле фар</text>
<rect x="345.2" y="613.6" width="60" height="43.4" fill="none" stroke="#000" stroke-width="3.3"/>
<polyline points="364,620.8 385.5,620.8" fill="none" stroke="#000" stroke-width="1.43" />
<polyline points="374.6,620.8 374.6,634.3" fill="none" stroke="#000" stroke-width="1.3" />
<polyline points="363,626.6 354.9,626.8 354.9,658" fill="none" stroke="#000" stroke-width="1.3" />
<polyline points="383,626.4 394.7,626.6 394.7,658" fill="none" stroke="#000" stroke-width="1.3" />
<circle cx="365.4" cy="626.4" r="2.4" fill="#fff" stroke="#000" stroke-width="1.3"/>
<circle cx="380.7" cy="626.4" r="2.4" fill="#fff" stroke="#000" stroke-width="1.3"/>
<rect x="368.2" y="634.3" width="12.2" height="18.8" fill="none" stroke="#000" stroke-width="1"/>
<polyline points="363.3,657 363.3,639 368.2,638.7 380.4,643.9 385.5,644.2 385.5,657" fill="none" stroke="#000" stroke-width="1.3" />
<polygon points="351.4,658 360.6,658 360.6,665 356,671 351.4,665" fill="#000"/>
<path d="M352.8,659.2 l1.2,2 l1.2,-2 M356.8,659.2 l1.2,2 l1.2,-2" stroke="#fff" stroke-width="0.9" fill="none"/>
<polygon points="390.4,658 399.6,658 399.6,665 395,671 390.4,665" fill="#000"/>
<path d="M391.8,659.2 l1.2,2 l1.2,-2 M395.8,659.2 l1.2,2 l1.2,-2" stroke="#fff" stroke-width="0.9" fill="none"/>
<polyline points="361.6,665 388.4,665" fill="none" stroke="#000" stroke-width="1.43" stroke-dasharray="2 2"/>
<text x="323.6" y="668" font-size="6.8" font-weight="bold" textLength="14.4" lengthAdjust="spacingAndGlyphs" stroke="#000" stroke-width="0.4" >A-08</text>
<text x="325" y="679.6" font-size="6.8" font-weight="bold" textLength="15" lengthAdjust="spacingAndGlyphs" stroke="#000" stroke-width="0.4" >2.0R</text>
<text x="320" y="689.6" font-size="6.8" font-weight="bold" textLength="26" lengthAdjust="spacingAndGlyphs" stroke="#000" stroke-width="0.4" >0.85BW</text>
<text x="358.6" y="677.8" font-size="6.8" font-weight="bold" stroke="#000" stroke-width="0.4" >2</text>
<text x="368" y="677.8" font-size="6.8" font-weight="bold" stroke="#000" stroke-width="0.4" >1</text>
<text x="387.6" y="677.8" font-size="6.8" font-weight="bold" stroke="#000" stroke-width="0.4" >3</text>
<text x="398" y="677.4" font-size="6.8" font-weight="bold" stroke="#000" stroke-width="0.4" >4</text>
<polyline points="385.6,657 385.8,692 455.6,692 456.6,786.4 503,786.2" fill="none" stroke="#000" stroke-width="1.3" />
<polyline points="395,670.6 395,682 452.4,682 452.4,660" fill="none" stroke="#000" stroke-width="1.3" />
<polyline points="441,678 435,682 441,686" fill="none" stroke="#000" stroke-width="1.69" />
<polyline points="445.8,678 439.8,682 445.8,686" fill="none" stroke="#000" stroke-width="1.69" />
<text x="409" y="679" font-size="6.8" font-weight="bold" textLength="21" lengthAdjust="spacingAndGlyphs" stroke="#000" stroke-width="0.4" >20RW</text>
<text x="407" y="689.6" font-size="6.8" font-weight="bold" textLength="15" lengthAdjust="spacingAndGlyphs" stroke="#000" stroke-width="0.4" >0.5R</text>
<rect x="442.4" y="630" width="34.2" height="34.4" fill="none" stroke="#000" stroke-width="3.4"/>
<polygon points="461,596.6 457.9,606.4 464.1,606.4" fill="#000"/>
<polyline points="461,606 461,637.4" fill="none" stroke="#000" stroke-width="1.3" />
<polyline points="457,617.6 461,611.6 465,617.6" fill="none" stroke="#000" stroke-width="1.69" />
<polyline points="457,622.4 461,616.4 465,622.4" fill="none" stroke="#000" stroke-width="1.69" />
<circle cx="461" cy="639.4" r="2.2" fill="#fff" stroke="#000" stroke-width="1.3"/>
<polyline points="454,656.8 468,653.2" fill="none" stroke="#000" stroke-width="1.3" />
<circle cx="452.4" cy="658.1" r="2.3" fill="#fff" stroke="#000" stroke-width="1.3"/>
<circle cx="468.6" cy="657.4" r="2.3" fill="#fff" stroke="#000" stroke-width="1.3"/>
<polyline points="468.6,658.6 470.4,884.4" fill="none" stroke="#000" stroke-width="1.3" />
<polyline points="464.8,681.4 468.8,687.4 472.8,681.4" fill="none" stroke="#000" stroke-width="1.69" />
<polyline points="464.8,676.6 468.8,682.6 472.8,676.6" fill="none" stroke="#000" stroke-width="1.69" />
<polygon points="470.6,893.4 467.5,884 473.7,884" fill="#000"/>
<text x="431" y="622.6" font-size="6.8" font-weight="bold" textLength="14" lengthAdjust="spacingAndGlyphs" stroke="#000" stroke-width="0.4" >B-03</text>
<text x="436.4" y="676" font-size="6.8" font-weight="bold" textLength="13.6" lengthAdjust="spacingAndGlyphs" stroke="#000" stroke-width="0.4" >B-03</text>
<text x="455.6" y="676" font-size="6.8" font-weight="bold" stroke="#000" stroke-width="0.4" >6</text>
<text x="476.2" y="676" font-size="6.8" font-weight="bold" stroke="#000" stroke-width="0.4" >4</text>
<text x="471.6" y="693.4" font-size="6.8" font-weight="bold" textLength="13.4" lengthAdjust="spacingAndGlyphs" stroke="#000" stroke-width="0.4" >B-02</text>
<text x="497" y="638.6" font-size="9.5" font-weight="bold" textLength="61" lengthAdjust="spacingAndGlyphs" stroke="#000" stroke-width="0.4" >Выключатель</text>
<text x="497" y="648.6" font-size="9.5" font-weight="bold" textLength="74" lengthAdjust="spacingAndGlyphs" stroke="#000" stroke-width="0.4" >маскировочного</text>
<text x="497" y="658.2" font-size="9.5" font-weight="bold" textLength="50" lengthAdjust="spacingAndGlyphs" stroke="#000" stroke-width="0.4" >освещения</text>
<text x="445" y="903.4" font-size="9.5" font-weight="bold" textLength="58" lengthAdjust="spacingAndGlyphs" stroke="#000" stroke-width="0.4" >Правая фара</text>
<circle cx="469.2" cy="717" r="2.6" fill="#000"/>
<polyline points="469.2,717 599,715.4 599,731.4 632.7,731.6" fill="none" stroke="#000" stroke-width="1.3" />
<text x="365" y="722" font-size="9.6" font-weight="bold" textLength="76" lengthAdjust="spacingAndGlyphs" stroke="#000" stroke-width="0.4" >Реле габаритных</text>
<text x="381.6" y="732.2" font-size="9.6" font-weight="bold" textLength="35.4" lengthAdjust="spacingAndGlyphs" stroke="#000" stroke-width="0.4" >фонарей</text>
<rect x="378.6" y="744.6" width="54" height="46.2" fill="none" stroke="#000" stroke-width="3.4"/>
<polyline points="395.6,753.6 417,753.6" fill="none" stroke="#000" stroke-width="1.43" />
<polyline points="406,753.6 406,768" fill="none" stroke="#000" stroke-width="1.3" />
<polyline points="378,764 393.6,764" fill="none" stroke="#000" stroke-width="1.3" />
<polyline points="417.6,763.6 433,763.4" fill="none" stroke="#000" stroke-width="1.3" />
<circle cx="395.6" cy="764" r="2.4" fill="#fff" stroke="#000" stroke-width="1.3"/>
<circle cx="415.6" cy="763.6" r="2.4" fill="#fff" stroke="#000" stroke-width="1.3"/>
<rect x="400" y="768" width="12" height="18" fill="none" stroke="#000" stroke-width="1"/>
<polyline points="394.4,791 394.4,775.2 400,775 412,780 416.4,780.2 416.4,791" fill="none" stroke="#000" stroke-width="1.3" />
<polygon points="377,759.6 377,768.4 371,768.4 365,764 371,759.6" fill="#000"/>
<path d="M375.8,762.4 l-3,1.6 l3,1.6" stroke="#fff" stroke-width="1" fill="none"/>
<polygon points="434,758.2 434,767 440,767 445,762.6 440,758.2" fill="#000"/>
<path d="M435.2,761 l3,1.6 l-3,1.6" stroke="#fff" stroke-width="1" fill="none"/>
<polygon points="390.6,792 399.4,792 399.4,800 395,806 390.6,800" fill="#000"/>
<path d="M391.8,793.2 l1.2,2 l1.2,-2 M395.8,793.2 l1.2,2 l1.2,-2" stroke="#fff" stroke-width="0.9" fill="none"/>
<polygon points="413,792 421.8,792 421.8,800 417.4,806 413,800" fill="#000"/>
<path d="M414.2,793.2 l1.2,2 l1.2,-2 M418.2,793.2 l1.2,2 l1.2,-2" stroke="#fff" stroke-width="0.9" fill="none"/>
<polyline points="400,799 412.6,799" fill="none" stroke="#000" stroke-width="1.43" stroke-dasharray="2 2"/>
<circle cx="345.6" cy="764.3" r="2.6" fill="#000"/>
<polyline points="345.6,764.3 345.6,811 395.4,811 395.4,805" fill="none" stroke="#000" stroke-width="1.3" />
<polyline points="417.6,805 417.8,809.8 449.4,809.8 449,753.6 492,752.6" fill="none" stroke="#000" stroke-width="1.3" />
<text x="324.4" y="756" font-size="6.8" font-weight="bold" textLength="15.2" lengthAdjust="spacingAndGlyphs" stroke="#000" stroke-width="0.4" >2.0R</text>
<text x="351.6" y="757.6" font-size="6.8" font-weight="bold" textLength="15.4" lengthAdjust="spacingAndGlyphs" stroke="#000" stroke-width="0.4" >B-35</text>
<text x="352" y="775.6" font-size="6.8" font-weight="bold" stroke="#000" stroke-width="0.4" >2</text>
<text x="438" y="774.6" font-size="6.8" font-weight="bold" stroke="#000" stroke-width="0.4" >4</text>
<text x="352.4" y="802.4" font-size="6.8" font-weight="bold" textLength="19.6" lengthAdjust="spacingAndGlyphs" stroke="#000" stroke-width="0.4" >0.85R</text>
<text x="401" y="810.4" font-size="6.8" font-weight="bold" stroke="#000" stroke-width="0.4" >1</text>
<text x="421.4" y="808.6" font-size="6.8" font-weight="bold" stroke="#000" stroke-width="0.4" >3</text>
<text x="420" y="820" font-size="6.8" font-weight="bold" textLength="22" lengthAdjust="spacingAndGlyphs" stroke="#000" stroke-width="0.4" >0.5GBr</text>
<text x="464.4" y="745" font-size="6.8" font-weight="bold" textLength="20" lengthAdjust="spacingAndGlyphs" transform="rotate(-90 464.4 745)" stroke="#000" stroke-width="0.3">2.0RL</text>
<text x="498" y="731" font-size="9.5" font-weight="bold" textLength="71" lengthAdjust="spacingAndGlyphs" stroke="#000" stroke-width="0.4" >Комб.переключ.</text>
<rect x="506.6" y="741.2" width="54" height="49.8" fill="none" stroke="#000" stroke-width="3.3"/>
<polyline points="492,752.6 513,752.4" fill="none" stroke="#000" stroke-width="1.3" />
<circle cx="515" cy="752.4" r="2.2" fill="#fff" stroke="#000" stroke-width="1.3"/>
<text x="521" y="755" font-size="7.4" font-weight="normal" textLength="9" lengthAdjust="spacingAndGlyphs" stroke="#000" stroke-width="0.4" >TS</text>
<polyline points="498,748.6 492,752.6 498,756.6" fill="none" stroke="#000" stroke-width="1.69" />
<polyline points="502.8,748.6 496.8,752.6 502.8,756.6" fill="none" stroke="#000" stroke-width="1.69" />
<polyline points="503,786.2 513,786" fill="none" stroke="#000" stroke-width="1.3" />
<circle cx="515" cy="786" r="2.2" fill="#fff" stroke="#000" stroke-width="1.3"/>
<text x="520.6" y="789" font-size="7.4" font-weight="normal" textLength="13.4" lengthAdjust="spacingAndGlyphs" stroke="#000" stroke-width="0.4" >HS1</text>
<polyline points="498,782.2 492,786.2 498,790.2" fill="none" stroke="#000" stroke-width="1.69" />
<polyline points="502.8,782.2 496.8,786.2 502.8,790.2" fill="none" stroke="#000" stroke-width="1.69" />
<circle cx="548.6" cy="785.6" r="2.2" fill="#fff" stroke="#000" stroke-width="1.3"/>
<text x="540.6" y="779.6" font-size="7.4" font-weight="normal" textLength="14.4" lengthAdjust="spacingAndGlyphs" stroke="#000" stroke-width="0.4" >HS2</text>
<polyline points="498,757.6 498,782" fill="none" stroke="#000" stroke-width="1.43" stroke-dasharray="1.6 2"/>
<polyline points="502,757.6 502,782" fill="none" stroke="#000" stroke-width="1.43" stroke-dasharray="1.6 2"/>
<circle cx="482" cy="786.4" r="2.6" fill="#000"/>
<polyline points="482,786.4 482.4,822 548.6,822 548.6,787.6" fill="none" stroke="#000" stroke-width="1.3" />
<polyline points="544.6,802 548.6,808 552.6,802" fill="none" stroke="#000" stroke-width="1.69" />
<polyline points="544.6,797.2 548.6,803.2 552.6,797.2" fill="none" stroke="#000" stroke-width="1.69" />
<text x="473.6" y="749" font-size="6.8" font-weight="bold" textLength="14.4" lengthAdjust="spacingAndGlyphs" stroke="#000" stroke-width="0.4" >B-17</text>
<text x="492" y="765" font-size="6.8" font-weight="bold" stroke="#000" stroke-width="0.4" >7</text>
<text x="492" y="797.6" font-size="6.8" font-weight="bold" stroke="#000" stroke-width="0.4" >6</text>
<text x="492.6" y="815" font-size="6.8" font-weight="bold" textLength="28.4" lengthAdjust="spacingAndGlyphs" stroke="#000" stroke-width="0.4" >0.85LgB</text>
<text x="554.6" y="802.2" font-size="6.8" font-weight="bold" stroke="#000" stroke-width="0.4" >4</text>
<text x="555" y="812" font-size="6.8" font-weight="bold" textLength="14" lengthAdjust="spacingAndGlyphs" stroke="#000" stroke-width="0.4" >B-27</text>
<text x="621.6" y="633.8" font-size="9.6" font-weight="bold" textLength="47.4" lengthAdjust="spacingAndGlyphs" stroke="#000" stroke-width="0.4" >Держатель</text>
<text x="611" y="644.4" font-size="9.6" font-weight="bold" textLength="79" lengthAdjust="spacingAndGlyphs" stroke="#000" stroke-width="0.4" >предохранителей</text>
<circle cx="581.5" cy="761" r="2.6" fill="#000"/>
<polyline points="581.5,761 633.3,760.3" fill="none" stroke="#000" stroke-width="1.3" />
<polyline points="577.1,739 581.1,733 585.1,739" fill="none" stroke="#000" stroke-width="1.69" />
<polyline points="577.1,743.8 581.1,737.8 585.1,743.8" fill="none" stroke="#000" stroke-width="1.69" />
<text x="589" y="741.4" font-size="6.8" font-weight="bold" textLength="19" lengthAdjust="spacingAndGlyphs" stroke="#000" stroke-width="0.4" >B- 40</text>
<rect x="629.6" y="656.9" width="34.2" height="19.2" fill="none" stroke="#000" stroke-width="1.5"/>
<path d="M635.8,665.5 C637.47,663.5 639.31,663.1 641.16,663.6 S644.16,667.1 646.94,668.2 S652.48,667.9 654.7,666.5" fill="none" stroke="#000" stroke-width="1.43" />
<circle cx="634" cy="666.9" r="2.6" fill="#fff" stroke="#000" stroke-width="1.3"/>
<circle cx="657.1" cy="666.3" r="2.6" fill="#fff" stroke="#000" stroke-width="1.3"/>
<text x="641.9" y="663" font-size="7.6" font-weight="bold" textLength="11.8" lengthAdjust="spacingAndGlyphs" stroke="#000" stroke-width="0.4" >15A</text>
<text x="608.6" y="662" font-size="6.8" font-weight="bold" textLength="17.4" lengthAdjust="spacingAndGlyphs" stroke="#000" stroke-width="0.4" >2.0W</text>
<rect x="630" y="688.4" width="34" height="18.8" fill="none" stroke="#000" stroke-width="1.5"/>
<path d="M636.4,697 C638.05,695 639.89,694.6 641.73,695.1 S644.72,698.6 647.48,699.7 S653,699.4 655.2,698" fill="none" stroke="#000" stroke-width="1.43" />
<circle cx="634.6" cy="698.4" r="2.6" fill="#fff" stroke="#000" stroke-width="1.3"/>
<circle cx="657.6" cy="697.8" r="2.6" fill="#fff" stroke="#000" stroke-width="1.3"/>
<text x="643.6" y="694.4" font-size="7.6" font-weight="bold" textLength="10.1" lengthAdjust="spacingAndGlyphs" stroke="#000" stroke-width="0.4" >10A</text>
<text x="596" y="688.6" font-size="6.8" font-weight="bold" textLength="20.4" lengthAdjust="spacingAndGlyphs" stroke="#000" stroke-width="0.4" >1.25R</text>
<rect x="630.4" y="721.8" width="34" height="19.2" fill="none" stroke="#000" stroke-width="1.5"/>
<path d="M636.9,730.2 C638.57,728.2 640.41,727.8 642.26,728.3 S645.26,731.8 648.04,732.9 S653.58,732.6 655.8,731.2" fill="none" stroke="#000" stroke-width="1.43" />
<circle cx="635.1" cy="731.6" r="2.6" fill="#fff" stroke="#000" stroke-width="1.3"/>
<circle cx="658.2" cy="731" r="2.6" fill="#fff" stroke="#000" stroke-width="1.3"/>
<text x="644.2" y="728.2" font-size="7.6" font-weight="bold" textLength="10.1" lengthAdjust="spacingAndGlyphs" stroke="#000" stroke-width="0.4" >10A</text>
<text x="603.6" y="727.4" font-size="6.8" font-weight="bold" textLength="20.8" lengthAdjust="spacingAndGlyphs" stroke="#000" stroke-width="0.4" >0.5LR</text>
<rect x="631.1" y="750.8" width="33.6" height="18.5" fill="none" stroke="#000" stroke-width="1.5"/>
<path d="M637.5,758.8 C639.08,756.8 640.88,756.4 642.68,756.9 S645.6,760.4 648.3,761.5 S653.7,761.2 655.8,759.8" fill="none" stroke="#000" stroke-width="1.43" />
<circle cx="635.7" cy="760.2" r="2.6" fill="#fff" stroke="#000" stroke-width="1.3"/>
<circle cx="658.2" cy="759.6" r="2.6" fill="#fff" stroke="#000" stroke-width="1.3"/>
<text x="643" y="756.8" font-size="7.6" font-weight="bold" textLength="11.3" lengthAdjust="spacingAndGlyphs" stroke="#000" stroke-width="0.4" >20A</text>
<text x="602" y="757" font-size="6.8" font-weight="bold" textLength="20.4" lengthAdjust="spacingAndGlyphs" stroke="#000" stroke-width="0.4" >2.0LR</text>
<rect x="631.3" y="781.5" width="33.6" height="18.8" fill="none" stroke="#000" stroke-width="1.5"/>
<path d="M637.8,789.7 C639.38,787.7 641.17,787.3 642.98,787.8 S645.9,791.3 648.6,792.4 S654,792.2 656.1,790.8" fill="none" stroke="#000" stroke-width="1.43" />
<circle cx="636" cy="791.1" r="2.6" fill="#fff" stroke="#000" stroke-width="1.3"/>
<circle cx="658.5" cy="790.6" r="2.6" fill="#fff" stroke="#000" stroke-width="1.3"/>
<text x="644.7" y="787.2" font-size="7.6" font-weight="bold" textLength="10.1" lengthAdjust="spacingAndGlyphs" stroke="#000" stroke-width="0.4" >20A</text>
<text x="603.6" y="786" font-size="6.8" font-weight="bold" textLength="15.4" lengthAdjust="spacingAndGlyphs" stroke="#000" stroke-width="0.4" >3.0R</text>
<text x="668.3" y="661.6" font-size="7.2" font-weight="bold" textLength="23.7" lengthAdjust="spacingAndGlyphs" stroke="#000" stroke-width="0.4" >ЗАМОК</text>
<text x="668.3" y="670" font-size="7.2" font-weight="bold" textLength="34.3" lengthAdjust="spacingAndGlyphs" stroke="#000" stroke-width="0.4" >СРЕДНЕЙ</text>
<text x="668.3" y="677.9" font-size="7.2" font-weight="bold" textLength="23.7" lengthAdjust="spacingAndGlyphs" stroke="#000" stroke-width="0.4" >ДВЕРИ</text>
<text x="668.3" y="691.4" font-size="7.2" font-weight="bold" textLength="30.9" lengthAdjust="spacingAndGlyphs" stroke="#000" stroke-width="0.4" >ПЛАФОН</text>
<text x="668.3" y="699.8" font-size="7.2" font-weight="bold" textLength="31.9" lengthAdjust="spacingAndGlyphs" stroke="#000" stroke-width="0.4" >ОСВЕЩЕ-</text>
<text x="668.3" y="707.2" font-size="7.2" font-weight="bold" textLength="28.7" lengthAdjust="spacingAndGlyphs" stroke="#000" stroke-width="0.4" >НИЯ СА-</text>
<text x="668.3" y="715" font-size="7.2" font-weight="bold" textLength="19.7" lengthAdjust="spacingAndGlyphs" stroke="#000" stroke-width="0.4" >ЛОНА</text>
<text x="668.9" y="726.3" font-size="7.2" font-weight="bold" textLength="33.7" lengthAdjust="spacingAndGlyphs" stroke="#000" stroke-width="0.4" >ИНДИКАТОР</text>
<text x="668.9" y="734.8" font-size="7.2" font-weight="bold" textLength="33.7" lengthAdjust="spacingAndGlyphs" stroke="#000" stroke-width="0.4" >ВКЛЮЧЕНИЯ</text>
<text x="668.9" y="742.6" font-size="7.2" font-weight="bold" textLength="15.1" lengthAdjust="spacingAndGlyphs" stroke="#000" stroke-width="0.4" >ФАР</text>
<text x="669.4" y="758.8" font-size="7.2" font-weight="bold" textLength="33.2" lengthAdjust="spacingAndGlyphs" stroke="#000" stroke-width="0.4" >КОНДИЦИО-</text>
<text x="669.4" y="767.3" font-size="7.2" font-weight="bold" textLength="23.1" lengthAdjust="spacingAndGlyphs" stroke="#000" stroke-width="0.4" >НЕР (*)</text>
<text x="670" y="789.8" font-size="7.2" font-weight="bold" textLength="33.2" lengthAdjust="spacingAndGlyphs" stroke="#000" stroke-width="0.4" >КОНДИЦИО-</text>
<text x="670" y="798.2" font-size="7.2" font-weight="bold" textLength="25.9" lengthAdjust="spacingAndGlyphs" stroke="#000" stroke-width="0.4" >НЕР (**)</text>
<text x="632.3" y="811.7" font-size="7.2" font-weight="bold" textLength="65.8" lengthAdjust="spacingAndGlyphs" stroke="#000" stroke-width="0.4" >* (ДЛЯ МОДЕЛЕЙ С</text>
<text x="639.6" y="818.7" font-size="7.2" font-weight="bold" textLength="54" lengthAdjust="spacingAndGlyphs" stroke="#000" stroke-width="0.4" >ОДНИМ КОНДИ-</text>
<text x="639.6" y="826.2" font-size="7.2" font-weight="bold" textLength="42.8" lengthAdjust="spacingAndGlyphs" stroke="#000" stroke-width="0.4" >ЦИОНЕРОМ)</text>
<text x="632.3" y="834.8" font-size="7.2" font-weight="bold" textLength="68.1" lengthAdjust="spacingAndGlyphs" stroke="#000" stroke-width="0.4" >** (ДЛЯ МОДЕЛЕЙ С</text>
<text x="640.8" y="842.7" font-size="7.2" font-weight="bold" textLength="53.4" lengthAdjust="spacingAndGlyphs" stroke="#000" stroke-width="0.4" >ДВУМЯ КОНДИ-</text>
<text x="640.8" y="850.8" font-size="7.2" font-weight="bold" textLength="48.3" lengthAdjust="spacingAndGlyphs" stroke="#000" stroke-width="0.4" >ЦИОНЕРАМИ)</text>
</g>
</svg>
</body></html>
